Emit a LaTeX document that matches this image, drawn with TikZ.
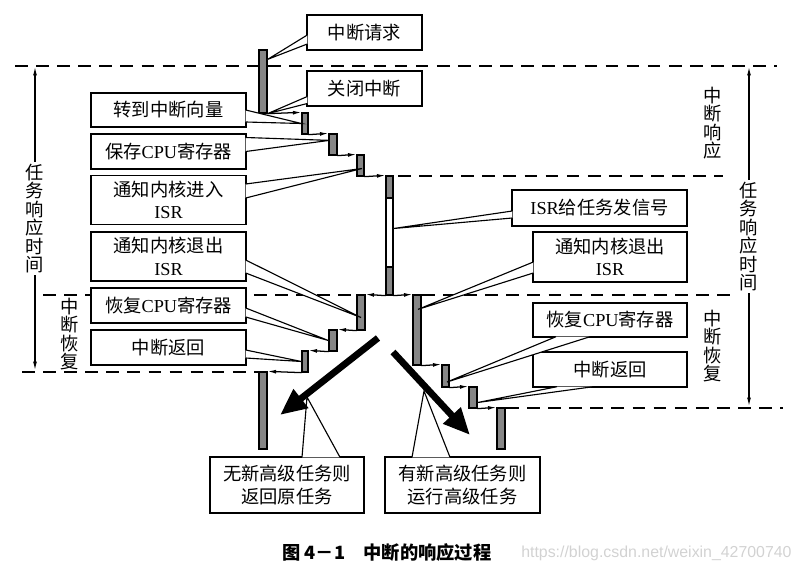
\documentclass[tikz,border=0pt]{standalone}
\usepackage{fontspec}
\setmainfont{Liberation Serif}
\newfontfamily\cjk{Noto Sans CJK SC}
\newfontfamily\urlfont{Liberation Sans}
\usetikzlibrary{arrows.meta, calc, fit}

\begin{document}
\begin{tikzpicture}[
  x=0.025cm, y=-0.025cm,
  >={Latex[length=6pt,width=2.8pt]},
  box/.style={draw, line width=1pt, fill=white, inner sep=0pt, align=center,
              minimum width=3.875cm, minimum height=0.875cm,
              font=\cjk\fontsize{13}{16}\selectfont},
  tallbox/.style={box, minimum height=1.22cm},
  bar/.style={draw, line width=0.9pt, fill=gray!95, inner sep=0pt},
  wedge/.style={draw, line width=0.8pt, fill=white, line join=miter},
  stair/.style={->, line width=0.9pt},
  guide/.style={line width=0.9pt, dash pattern=on 9pt off 6pt},
  span/.style={<->, line width=0.8pt},
  vlabel/.style={font=\cjk\fontsize{13}{13.2}\selectfont, align=center, inner sep=1pt},
  bigarrow/.style={-{Triangle[length=19pt,width=16pt]}, line width=4.8pt}
]
\useasboundingbox (0,0) rectangle (802,573);

% ---- Guide lines ----
\draw[guide] (15,66) -- (777,66);
\draw[guide] (398,176) -- (723,176);
\draw[guide] (43,295) -- (357,295);
\draw[guide] (422,295) -- (735,295);
\draw[guide] (22,372) -- (258,372);
\draw[guide] (506,408) -- (783,408);

% ---- Time spans ----
\draw[span] (35,67) -- node[vlabel, fill=white] (taskL) {任\\务\\响\\应\\时\\间} (35,370);
\draw[span] (749,67) -- node[vlabel, fill=white] (taskR) {任\\务\\响\\应\\时\\间} (749,406);
\node[vlabel] (respR) at (713,123) {中\\断\\响\\应};
\node[vlabel] (backR) at (713,346) {中\\断\\恢\\复};
\node[vlabel] (backL) at (70,334) {中\\断\\恢\\复};

% ---- Boxes ----
\node[box, minimum width=2.875cm] (req) at (364.5,32.5) {中断请求};
\node[box, minimum width=2.875cm] (cls) at (364.5,88.5) {关闭中断};
\node[box, minimum height=0.85cm] (vec) at (168.5,110) {转到中断向量};
\node[box] (save) at (168.5,151.5) {保存{\rmfamily CPU}寄存器};
\node[tallbox] (enter) at (168.5,200) {通知内核进入\\{\rmfamily ISR}};
\node[tallbox] (exitL) at (168.5,256.5) {通知内核退出\\{\rmfamily ISR}};
\node[box] (restoreL) at (168.5,305.5) {恢复{\rmfamily CPU}寄存器};
\node[box] (retL) at (168.5,347.5) {中断返回};
\node[box, minimum width=4.375cm, minimum height=0.9cm] (signal) at (599.5,208) {{\rmfamily ISR}给任务发信号};
\node[tallbox, minimum width=3.85cm, minimum height=1.25cm] (exitR) at (610,257) {通知内核退出\\{\rmfamily ISR}};
\node[box, minimum width=3.85cm, minimum height=0.85cm] (restoreR) at (610,320) {恢复{\rmfamily CPU}寄存器};
\node[box, minimum width=3.85cm] (retR) at (610,369.5) {中断返回};
\node[box, minimum width=3.85cm, minimum height=1.4cm] (back) at (287,485) {无新高级任务则\\返回原任务};
\node[box, minimum height=1.4cm] (run) at (462.5,485) {有新高级任务则\\运行高级任务};

% ---- Bars ----
\node[bar, fit={(259,50) (267,113)}] (b1) {};
\node[bar, fit={(302,113) (308,134)}] (b2) {};
\node[bar, fit={(329,134) (337,155)}] (b3) {};
\node[bar, fit={(357,155) (364,176)}] (b4) {};
\node[bar, fit={(386,176) (393,198)}] (b5a) {};
\node[bar, fill=white, fit={(386,198) (393,267)}] (b5w) {};
\node[bar, fit={(386,267) (393,295)}] (b5b) {};
\node[bar, fit={(357,295) (365,330)}] (l6) {};
\node[bar, fit={(329,330) (337,351)}] (l7) {};
\node[bar, fit={(302,351) (308,372)}] (l8) {};
\node[bar, fit={(259,372) (267,449)}] (l9) {};
\node[bar, fit={(413,295) (421,365)}] (r6) {};
\node[bar, fit={(442,365) (449,387)}] (r7) {};
\node[bar, fit={(469,387) (477,408)}] (r8) {};
\node[bar, fit={(497,408) (505,449)}] (r9) {};

% ---- Big arrows ----
\coordinate (aL1) at (378,338);
\coordinate (aL2) at (280,415);
\coordinate (aR1) at (393,352);
\coordinate (aR2) at (470,435);
\coordinate (tipL) at (307,397);
\coordinate (tipR) at (424,391);

% ---- Pointers ----
\filldraw[wedge] ($(req.west)+(1,2.5)$) -- ($(b1.north east)+(0,10)$) -- ($(req.west)+(1,11.5)$);
\filldraw[wedge] ($(cls.west)+(1,8)$) -- (b1.south east) -- ($(cls.west)+(1,15)$);
\filldraw[wedge] ($(vec.east)+(-1,0)$) -- (b2.west) -- ($(vec.east)+(-1,12)$);
\filldraw[wedge] ($(save.east)+(-1,-14)$) -- ($(b3.north west)+(1,7)$) -- ($(save.east)+(-1,0)$);
\filldraw[wedge] ($(enter.east)+(-1,-16)$) -- ($(b4.center)+(1.5,3)$) -- ($(enter.east)+(-1,-2)$);
\filldraw[wedge] ($(exitL.east)+(-1,3.5)$) -- ($(l6.center)+(0,5)$) -- ($(exitL.east)+(-1,16.5)$);
\filldraw[wedge] ($(restoreL.east)+(-1,2.5)$) -- (l7.west) -- ($(restoreL.east)+(-1,11.5)$);
\filldraw[wedge] ($(retL.east)+(-1,2.5)$) -- (l8.west) -- ($(retL.east)+(-1,10.5)$);
\filldraw[wedge] ($(signal.west)+(1,3)$) -- ($(b5w.east)+(0,-4)$) -- ($(signal.west)+(1,10)$);
\filldraw[wedge] ($(exitR.west)+(1,5)$) -- ($(r6.north)+(1,15)$) -- ($(exitR.west)+(1,16)$);
\filldraw[wedge] ($(restoreR.south)+(-54,-1)$) -- ($(r7.center)+(1.5,6)$) -- ($(restoreR.south)+(-20,-1)$);
\filldraw[wedge] ($(retR.south)+(-53,-1)$) -- ($(r8.east)+(0,5)$) -- ($(retR.south)+(-17,-1)$);
\filldraw[wedge] ($(back.north)+(15,1)$) -- (tipL) -- ($(back.north)+(53,1)$);
\filldraw[wedge] ($(run.north)+(-50.5,1)$) -- (tipR) -- ($(run.north)+(-12.5,1)$);

% ---- Steps ----
\draw[stair] (b1.south east) -- (b2.north west);
\draw[stair] (b2.south east) -- (b3.north west);
\draw[stair] (b3.south east) -- (b4.north west);
\draw[stair] (b4.south east) -- (b5a.north west);
\draw[stair] (b5b.south west) -- (l6.north east);
\draw[stair] (b5b.south east) -- (r6.north west);
\draw[stair] (l6.south west) -- (l7.north east);
\draw[stair] (l7.south west) -- (l8.north east);
\draw[stair] (l8.south west) -- (l9.north east);
\draw[stair] (r6.south east) -- (r7.north west);
\draw[stair] (r7.south east) -- (r8.north west);
\draw[stair] (r8.south east) -- (r9.north west);

\draw[bigarrow] (aL1) -- (aL2);
\draw[bigarrow] (aR1) -- (aR2);

% ---- Caption ----
\node[font=\cjk\bfseries\fontsize{13}{15}\selectfont, anchor=west, inner sep=0pt]
  (cap) at (282,553) {图 4－1\quad 中断的响应过程};
\node[font=\urlfont\fontsize{11.3}{13}\selectfont, text=gray!35, anchor=west, inner sep=0pt]
  (mark) at (521,553) {https://blog.csdn.net/weixin\_42700740};

\end{tikzpicture}
\end{document}
